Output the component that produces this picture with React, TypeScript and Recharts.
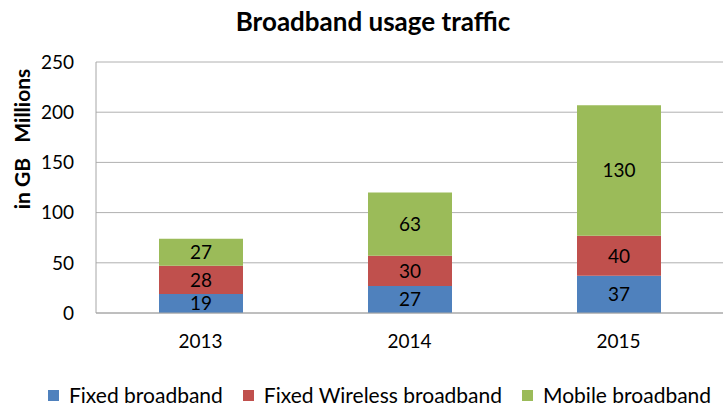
import React from 'react';
import { BarChart, Bar, XAxis, YAxis, CartesianGrid, Legend, LabelList } from 'recharts';

const years = ['2013', '2014', '2015'];
const fixedBroadband = [19, 27, 37];
const fixedWireless = [28, 30, 40];
const mobileBroadband = [27, 63, 130];
const yTicks = [0, 50, 100, 150, 200, 250];

const SERIES = [
  { key: 'fixed', name: 'Fixed broadband', color: '#4F81BD' },
  { key: 'wireless', name: 'Fixed Wireless broadband', color: '#C0504D' },
  { key: 'mobile', name: 'Mobile broadband', color: '#9BBB59' },
];

const FONT = 'Lato, "Open Sans", sans-serif';

const data = years.map((year, i) => ({
  year,
  fixed: fixedBroadband[i],
  wireless: fixedWireless[i],
  mobile: mobileBroadband[i],
}));

function LegendContent() {
  return (
    <div
      style={{
        display: 'flex',
        justifyContent: 'flex-start',
        paddingLeft: 48,
        paddingTop: 12,
        fontFamily: FONT,
        fontSize: 21,
        lineHeight: '24px',
        color: '#000',
        whiteSpace: 'nowrap',
      }}
    >
      {SERIES.map((s) => (
        <div key={s.key} style={{ display: 'flex', alignItems: 'center', marginRight: 20 }}>
          <span style={{ display: 'inline-block', width: 11, height: 11, background: s.color, marginRight: 10 }} />
          <span>{s.name}</span>
        </div>
      ))}
    </div>
  );
}

export default function App() {
  return (
    <div style={{ position: 'absolute', left: 0, top: 0, width: 723, height: 408, background: '#fff' }}>
      <div
        style={{
          position: 'absolute',
          top: 5,
          left: 0,
          width: 746,
          textAlign: 'center',
          fontFamily: FONT,
          fontWeight: 'bold',
          fontSize: 26,
          color: '#000',
        }}
      >
        Broadband usage traffic
      </div>
      <div
        style={{
          position: 'absolute',
          left: 21,
          top: 139,
          transform: 'translate(-50%, -50%) rotate(-90deg)',
          whiteSpace: 'pre',
          fontFamily: FONT,
          fontWeight: 'bold',
          fontSize: 21,
          color: '#000',
        }}
      >
        {'in GB   Millions'}
      </div>
      <BarChart
        width={723}
        height={408}
        data={data}
        margin={{ top: 62, right: 0, bottom: 0, left: 0 }}
        barSize={84}
        style={{ fontFamily: FONT }}
      >
        <CartesianGrid vertical={false} stroke="#b0b0b0" />
        <XAxis
          dataKey="year"
          tickLine={false}
          axisLine={{ stroke: '#a6a6a6' }}
          tick={{ fill: '#000', fontSize: 19 }}
          tickSize={0}
          tickMargin={22}
          height={58}
        />
        <YAxis
          domain={[0, 250]}
          ticks={yTicks}
          tickLine={false}
          axisLine={{ stroke: '#a6a6a6' }}
          tick={{ fill: '#000', fontSize: 19 }}
          tickSize={0}
          tickMargin={22}
          width={96}
        />
        <Legend verticalAlign="bottom" height={37} content={<LegendContent />} />
        {SERIES.map((s) => (
          <Bar key={s.key} dataKey={s.key} name={s.name} stackId="a" fill={s.color} isAnimationActive={false}>
            <LabelList dataKey={s.key} position="center" fill="#000" fontSize={19} />
          </Bar>
        ))}
      </BarChart>
    </div>
  );
}
